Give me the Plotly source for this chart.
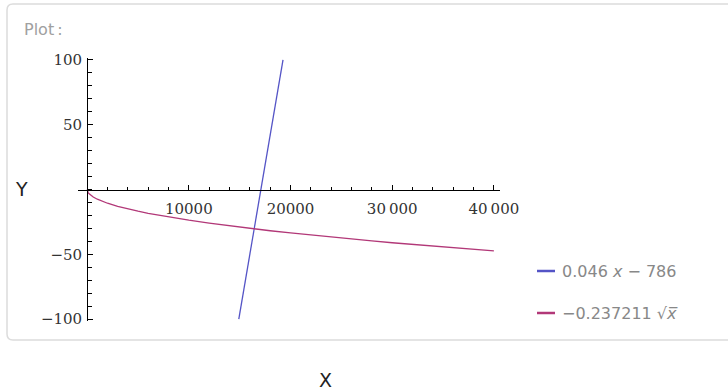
import plotly.graph_objects as go

# ---- data ----
line_x = [14913, 19261]
line_y = [-100, 100]

root_x = [0, 10, 25, 100, 200, 400, 600, 1000, 2000, 3000, 4000, 5000, 6000,
          8000, 10000, 12000, 14000, 16000, 18000, 20000, 22000, 24000, 26000,
          28000, 30000, 32000, 34000, 36000, 38000, 40000]
root_y = [0, -0.750, -1.186, -2.372, -3.355, -4.744, -5.810, -7.501, -10.608,
          -12.993, -15.003, -16.773, -18.374, -21.217, -23.721, -25.985,
          -28.067, -30.005, -31.825, -33.546, -35.184, -36.748, -38.249,
          -39.693, -41.086, -42.433, -43.740, -45.008, -46.241, -47.442]

x_tickvals = [10000, 20000, 30000, 40000]
x_ticktext = ["10000", "20000", "30\u2009000", "40\u2009000"]
y_tickvals = [-100, -50, 50, 100]
y_ticktext = ["\u2212100", "\u221250", "50", "100"]

legend_labels = ["0.046 <i>x</i> \u2212 786", "\u22120.237211 \u221a<i>x\u0305</i>"]
colors = ["#5454c6", "#b23878"]

# ---- layout geometry ----
W, H = 728, 392
L, R, T, B = 78, 228, 58, 71
x_range = [-900, 40600]
y_range = [-101.5, 101.5]
pw, ph = W - L - R, H - T - B

def px2x(px):
    return (px - L) / pw

def px2y(py):
    return (H - B - py) / ph

fig = go.Figure()
fig.add_trace(go.Scatter(x=line_x, y=line_y, mode="lines",
                         line=dict(color=colors[0], width=1.3), showlegend=False,
                         hoverinfo="skip"))
fig.add_trace(go.Scatter(x=root_x, y=root_y, mode="lines",
                         line=dict(color=colors[1], width=1.3), showlegend=False,
                         hoverinfo="skip"))

tickfont = dict(family="DejaVu Serif", size=15, color="#333")

y_axis_pos = (0 - x_range[0]) / (x_range[1] - x_range[0])
x_axis_pos = (0 - y_range[0]) / (y_range[1] - y_range[0])

fig.update_layout(
    width=W, height=H,
    margin=dict(l=L, r=R, t=T, b=B),
    paper_bgcolor="white", plot_bgcolor="white",
    showlegend=False,
    xaxis=dict(range=x_range, domain=[0, 1], anchor="free", position=x_axis_pos,
               showgrid=False, zeroline=False, showline=True, linecolor="black",
               linewidth=1, ticks="inside", ticklen=5, tickwidth=1,
               tickcolor="black", tickvals=x_tickvals, ticktext=x_ticktext,
               tickfont=tickfont, ticklabelstandoff=5,
               minor=dict(dtick=2000, tick0=0, ticks="inside", ticklen=3,
                          tickwidth=1, tickcolor="black", showgrid=False)),
    yaxis=dict(range=y_range, domain=[0, 1], anchor="free", position=y_axis_pos,
               showgrid=False, zeroline=False, showline=True, linecolor="black",
               linewidth=1, ticks="inside", ticklen=5, tickwidth=1,
               tickcolor="black", tickvals=y_tickvals, ticktext=y_ticktext,
               tickfont=tickfont, ticklabelstandoff=2,
               minor=dict(dtick=10, tick0=0, ticks="inside", ticklen=3.5,
                          tickwidth=1, tickcolor="black", showgrid=False)),
)

# outer rounded frame
x0, x1 = px2x(7), px2x(745)
y0, y1 = px2y(340), px2y(4)
rx, ry = 6 / pw, 6 / ph
path = (f"M {x0+rx},{y1} L {x1-rx},{y1} Q {x1},{y1} {x1},{y1-ry} "
        f"L {x1},{y0+ry} Q {x1},{y0} {x1-rx},{y0} L {x0+rx},{y0} "
        f"Q {x0},{y0} {x0},{y0+ry} L {x0},{y1-ry} Q {x0},{y1} {x0+rx},{y1} Z")
fig.add_shape(type="path", path=path, xref="paper", yref="paper",
              line=dict(color="#dcdcdc", width=1.5), layer="below")

# legend (line swatches + labels)
for lab, col, py in zip(legend_labels, colors, [271, 313]):
    fig.add_shape(type="line", xref="paper", yref="paper",
                  x0=px2x(537), x1=px2x(555), y0=px2y(py), y1=px2y(py),
                  line=dict(color=col, width=2.5))
    fig.add_annotation(text=lab, xref="paper", yref="paper",
                       x=px2x(560), y=px2y(py), xanchor="left", yanchor="middle",
                       showarrow=False,
                       font=dict(family="DejaVu Sans", size=16, color="#888"))

# texts
fig.add_annotation(text="Plot\u2009:", xref="paper", yref="paper",
                   x=px2x(22), y=px2y(29), xanchor="left", yanchor="middle",
                   showarrow=False,
                   font=dict(family="DejaVu Sans", size=16, color="#a0a0a0"))
fig.add_annotation(text="Y", xref="paper", yref="paper",
                   x=px2x(22), y=px2y(189), xanchor="center", yanchor="middle",
                   showarrow=False,
                   font=dict(family="DejaVu Sans", size=19, color="#222"))
fig.add_annotation(text="X", xref="paper", yref="paper",
                   x=px2x(325), y=px2y(380), xanchor="center", yanchor="middle",
                   showarrow=False,
                   font=dict(family="DejaVu Sans", size=19, color="#222"))

fig.write_html("out.html", config={"displayModeBar": False},
               post_script="document.body.style.margin='0';")
